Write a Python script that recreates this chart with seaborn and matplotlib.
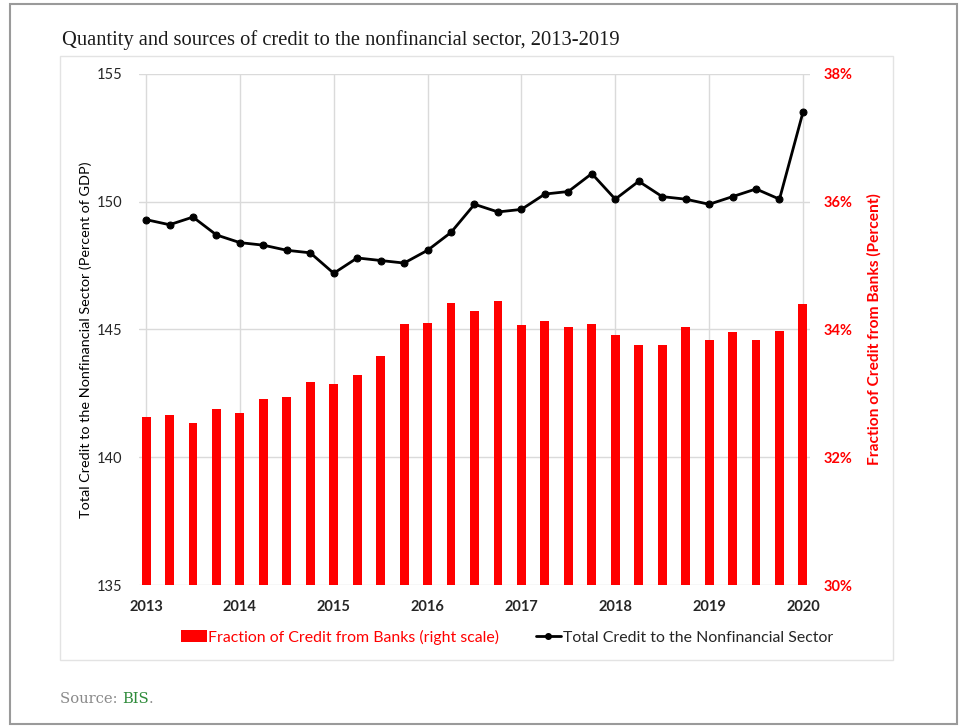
import matplotlib
matplotlib.use("Agg")
import matplotlib.pyplot as plt
import seaborn as sns
import pandas as pd
from matplotlib.patches import Rectangle, Patch
from matplotlib.lines import Line2D

# quarterly observations 2013Q1 .. 2020Q1
quarters = [f"{y}Q{q}" for y in range(2013, 2020) for q in range(1, 5)] + ["2020Q1"]
total_credit = [149.3, 149.1, 149.4, 148.7, 148.4, 148.3, 148.1, 148.0,
                147.2, 147.8, 147.7, 147.6, 148.1, 148.8, 149.9, 149.6,
                149.7, 150.3, 150.4, 151.1, 150.1, 150.8, 150.2, 150.1,
                149.9, 150.2, 150.5, 150.1, 153.5]
bank_share = [32.63, 32.66, 32.53, 32.75, 32.69, 32.91, 32.94, 33.18,
              33.14, 33.29, 33.58, 34.08, 34.10, 34.41, 34.29, 34.44,
              34.07, 34.13, 34.04, 34.08, 33.91, 33.75, 33.75, 34.04,
              33.83, 33.96, 33.83, 33.98, 34.40]
year_labels = ["2013", "2014", "2015", "2016", "2017", "2018", "2019", "2020"]
left_ticks = [135, 140, 145, 150, 155]
right_ticks = [30, 32, 34, 36, 38]

df = pd.DataFrame({"quarter": quarters, "pos": range(len(quarters)),
                   "total": total_credit, "share": bank_share})

sns.set_theme(style="white")
plt.rcParams['font.family'] = ['Lato', 'DejaVu Sans']

fig = plt.figure(figsize=(9.66, 7.28), dpi=100)
ax = fig.add_axes([0.1439, 0.1964, 0.6946, 0.702])
ax2 = ax.twinx()

# line on the left scale
sns.lineplot(data=df, x="pos", y="total", ax=ax, color="black", lw=2,
             marker="o", markersize=5, markeredgecolor="black")

# bars on the right scale
sns.barplot(data=df, x="pos", y="share", ax=ax2, color="#ff0000",
            saturation=1, width=0.38, native_scale=True, linewidth=0)

ax.set_xlim(-0.3, 28.3)
ax.set_ylim(135, 155)
ax2.set_ylim(30, 38)
ax.set_xticks(range(0, 29, 4))
ax.set_xticklabels(year_labels, fontsize=10.5, fontweight="bold")
ax.set_yticks(left_ticks)
ax.set_yticklabels([str(v) for v in left_ticks], fontsize=10.5)
ax2.set_yticks(right_ticks)
ax2.set_yticklabels([f"{v}%" for v in right_ticks], fontsize=10.5,
                    fontweight="bold", color="#ff0000")

ax.grid(True, color="#dadada", lw=1)
ax2.grid(False)
for a in (ax, ax2):
    for s in a.spines.values():
        s.set_visible(False)
ax.tick_params(axis="y", length=0, pad=12)
ax.tick_params(axis="x", length=0, pad=11)
ax2.tick_params(axis="y", length=0, pad=10)

ax.set_xlabel("")
ax2.set_xlabel("")
ax.set_ylabel("Total Credit to the Nonfinancial Sector (Percent of GDP)",
              fontsize=10.4, color="black")
ax.yaxis.set_label_coords(-0.07, 0.48)
ax2.set_ylabel("Fraction of Credit from Banks (Percent)", fontsize=11.2,
               fontweight="bold", color="#ff0000")
ax2.yaxis.set_label_coords(1.085, 0.5)

# legend
handles = [Patch(facecolor="#ff0000", edgecolor="none"),
           Line2D([], [], color="black", lw=2, marker="o", markersize=4)]
labels = ["Fraction of Credit from Banks (right scale)",
          "Total Credit to the Nonfinancial Sector"]
leg = fig.legend(handles, labels, loc="center", bbox_to_anchor=(0.525, 0.125),
                 ncol=2, frameon=False, fontsize=11.4, handlelength=1.6,
                 handletextpad=0.1, columnspacing=2.3)
leg.get_texts()[0].set_color("#ff0000")

# title and source
fig.text(62 / 966, 1 - 40 / 728,
         "Quantity and sources of credit to the nonfinancial sector, 2013-2019",
         fontsize=14.8, family="Liberation Serif", color="#1a1a1a", va="center")

fig.canvas.draw()
renderer = fig.canvas.get_renderer()
x0 = 60 / 966
ys = 1 - 699 / 728
for part, col in [("Source: ", "#8a8a8a"), ("BIS", "#2e8b3a"), (".", "#8a8a8a")]:
    t = fig.text(x0, ys, part, fontsize=10.6, family="DejaVu Serif", color=col,
                 va="center")
    bb = t.get_window_extent(renderer=renderer)
    x0 += bb.width / fig.bbox.width

# frames
fig.add_artist(Rectangle((10 / 966, 4 / 728), 947 / 966, 720 / 728,
                         transform=fig.transFigure, fill=False,
                         edgecolor="#9a9a9a", lw=1.5))
fig.add_artist(Rectangle((60 / 966, 1 - 660 / 728), 833 / 966, 604 / 728,
                         transform=fig.transFigure, fill=False,
                         edgecolor="#e3e3e3", lw=1))

fig.savefig("out.png", dpi=100)
